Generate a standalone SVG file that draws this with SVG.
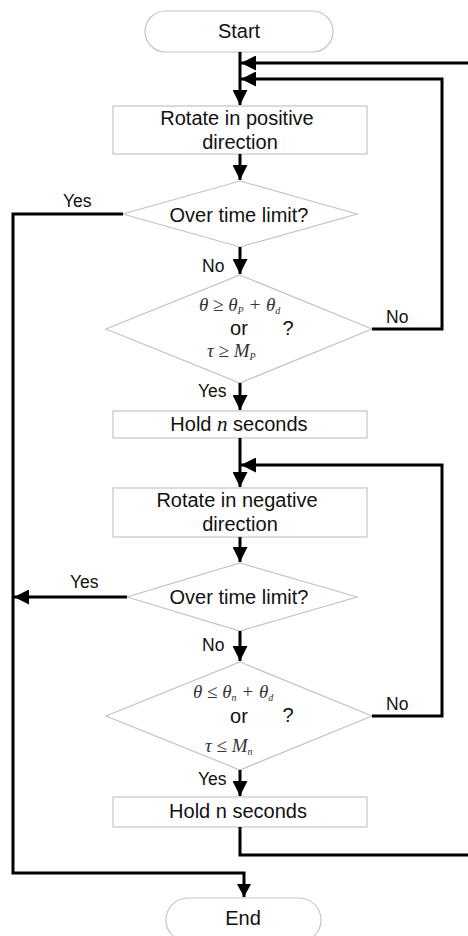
<svg xmlns="http://www.w3.org/2000/svg" width="468" height="936" viewBox="0 0 468 936">
<defs>
<style>
.shape{fill:#ffffff;stroke:#c4c4c4;stroke-width:1.2}
.t{font-family:"Liberation Sans",Arial,sans-serif;font-size:20px;fill:#111;text-anchor:middle}
.lbl{font-family:"Liberation Sans",Arial,sans-serif;font-size:17.5px;fill:#111}
.m{font-family:"Liberation Serif","Times New Roman",serif;font-size:19px;font-style:italic;fill:#333}
.sub{font-size:10px}
.c{fill:none;stroke:#000;stroke-width:3}
</style>
<marker id="ah" viewBox="0 0 10 10" refX="10" refY="5" markerWidth="5" markerHeight="5" markerUnits="strokeWidth" orient="auto">
<path d="M0,0 L10,5 L0,10 Z" fill="#000"/>
</marker>
</defs>
<rect width="468" height="936" fill="#ffffff"/>

<g id="start">
<rect class="shape" x="145" y="11" width="188" height="41" rx="20.5"/>
<text class="t" x="239" y="38">Start</text>
</g>

<g id="rotate-pos">
<rect class="shape" x="113" y="106" width="254" height="48"/>
<text class="t" x="237" y="125">Rotate in positive</text>
<text class="t" x="240" y="149">direction</text>
</g>

<g id="timelimit-1">
<polygon class="shape" points="240,181 357,214 240,247 123,214"/>
<text class="t" x="239" y="222">Over time limit?</text>
</g>

<g id="cond-pos">
<polygon class="shape" points="240,275 372,329 240,383 106,329"/>
<text class="m" x="199" y="311">θ ≥ θ<tspan class="sub" dy="3">P</tspan><tspan dy="-3"> + θ</tspan><tspan class="sub" dy="3">d</tspan></text>
<text class="t" x="239" y="335">or</text>
<text class="t" x="288" y="335">?</text>
<text class="m" x="207" y="357">τ ≥ M<tspan class="sub" dy="3">P</tspan></text>
</g>

<g id="hold-1">
<rect class="shape" x="113" y="411" width="254" height="27"/>
<text class="t" x="239" y="431">Hold <tspan font-family="Liberation Serif,serif" font-style="italic" font-size="21">n</tspan> seconds</text>
</g>

<g id="rotate-neg">
<rect class="shape" x="113" y="488" width="254" height="49"/>
<text class="t" x="237" y="507">Rotate in negative</text>
<text class="t" x="240" y="531">direction</text>
</g>

<g id="timelimit-2">
<polygon class="shape" points="240,563 357,597 240,631 127,597"/>
<text class="t" x="239" y="604">Over time limit?</text>
</g>

<g id="cond-neg">
<polygon class="shape" points="240,662 372,716 240,770 106,716"/>
<text class="m" x="193" y="698">θ ≤ θ<tspan class="sub" dy="3">n</tspan><tspan dy="-3"> + θ</tspan><tspan class="sub" dy="3">d</tspan></text>
<text class="t" x="239" y="723">or</text>
<text class="t" x="288" y="722">?</text>
<text class="m" x="205" y="752">τ ≤ M<tspan class="sub" dy="3">n</tspan></text>
</g>

<g id="hold-2">
<rect class="shape" x="113" y="797" width="254" height="30"/>
<text class="t" x="238" y="818">Hold n seconds</text>
</g>

<g id="end">
<rect class="shape" x="166" y="898" width="155" height="44" rx="22"/>
<text class="t" x="243" y="925">End</text>
</g>

<g id="connectors">
<path class="c" d="M240,52 V105" marker-end="url(#ah)"/>
<path class="c" d="M468,63 H241" marker-end="url(#ah)"/>
<path class="c" d="M372,329 H442 V79 H241" marker-end="url(#ah)"/>
<path class="c" d="M240,154 V180" marker-end="url(#ah)"/>
<path class="c" d="M123,214 H13 V873 H244 V897"/>
<path d="M237,884 L251,884 L244,897 Z" fill="#000"/>
<path class="c" d="M240,247 V274" marker-end="url(#ah)"/>
<path class="c" d="M240,383 V410" marker-end="url(#ah)"/>
<path class="c" d="M240,438 V487" marker-end="url(#ah)"/>
<path class="c" d="M372,716 H442 V465 H241" marker-end="url(#ah)"/>
<path class="c" d="M240,537 V562" marker-end="url(#ah)"/>
<path class="c" d="M127,597 H14" marker-end="url(#ah)"/>
<path class="c" d="M240,631 V661" marker-end="url(#ah)"/>
<path class="c" d="M240,770 V796" marker-end="url(#ah)"/>
<path class="c" d="M240,827 V855 H468"/>
<text class="lbl" x="63" y="207">Yes</text>
<text class="lbl" x="202" y="272">No</text>
<text class="lbl" x="386" y="323">No</text>
<text class="lbl" x="198" y="397">Yes</text>
<text class="lbl" x="70" y="588">Yes</text>
<text class="lbl" x="202" y="651">No</text>
<text class="lbl" x="386" y="710">No</text>
<text class="lbl" x="198" y="785">Yes</text>
</g>
</svg>
